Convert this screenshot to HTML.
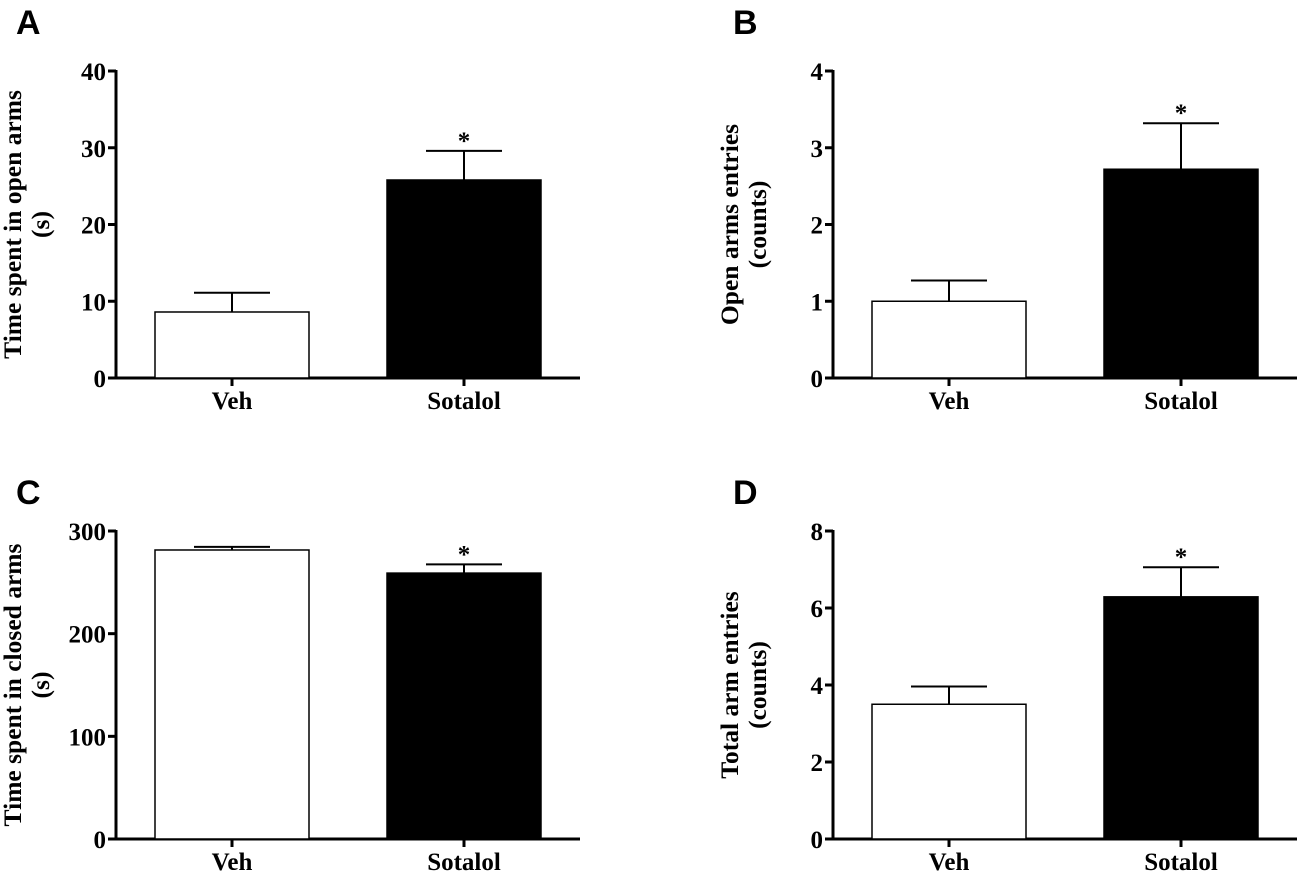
<!DOCTYPE html>
<html><head><meta charset="utf-8"><style>
body{margin:0;background:#fff}
svg text{font-family:"Liberation Serif",serif;font-weight:bold;fill:#000}
</style></head><body>
<svg id="c" width="1301" height="877" xmlns="http://www.w3.org/2000/svg"></svg>
<script>
const categories=["Veh","Sotalol"];
const panelLetters=["A","B","C","D"];
const yTitles=[["Time spent in open arms","(s)"],["Open arms entries","(counts)"],["Time spent in closed arms","(s)"],["Total arm entries","(counts)"]];
const meansA=[8.6,25.8], errA=[11.1,29.6], ticksA=[0,10,20,30,40];
const meansB=[1.0,2.72], errB=[1.27,3.32], ticksB=[0,1,2,3,4];
const meansC=[281.5,259], errC=[284.5,267.5], ticksC=[0,100,200,300];
const meansD=[3.5,6.29], errD=[3.96,7.06], ticksD=[0,2,4,6,8];
const sig=[false,true];
const panels=[[meansA,errA,ticksA],[meansB,errB,ticksB],[meansC,errC,ticksC],[meansD,errD,ticksD]];
const svg=document.getElementById('c');
const NS="http://www.w3.org/2000/svg";
function mk(t,a,p){const e=document.createElementNS(NS,t);for(const k in a)e.setAttribute(k,a[k]);(p||svg).appendChild(e);return e;}
panels.forEach((pd,i)=>{
  const [means,errs,ticks]=pd;
  const ox=i%2?833:116, y0=i<2?378:839, yTop=i<2?71:531;
  const g=mk('g',{});
  
  
  const maxv=ticks[ticks.length-1];
  const ys=v=>y0-(v/maxv)*(y0-yTop);
  const lt=mk('text',{x:ox-100,y:i<2?34:504,'font-size':34,style:'font-family:"Liberation Sans",sans-serif'},g);lt.textContent=panelLetters[i];
  
  const tx=ox-95, ty=(y0+yTop)/2;
  yTitles[i].forEach((s,j)=>{const t=mk('text',{x:0,y:0,'font-size':25.5,'text-anchor':'middle',transform:`translate(${tx+j*28},${ty}) rotate(-90)`},g);t.textContent=s;
    });
  const ya=mk('line',{x1:ox,y1:yTop-1,x2:ox,y2:y0+1.5,stroke:'#000','stroke-width':3},g);
  
  ticks.forEach(v=>{const y=ys(v);mk('line',{x1:ox-8,y1:y,x2:ox,y2:y,stroke:'#000','stroke-width':3},g);
    const t=mk('text',{x:ox-10,y:y+9,'font-size':25,'text-anchor':'end'},g);t.textContent=v;
    });
  const xa=mk('line',{x1:ox-1.5,y1:y0,x2:ox+464,y2:y0,stroke:'#000','stroke-width':3},g);
  
  categories.forEach((c,k)=>{
    const bx=ox+39+k*232, bw=154, cx=bx+bw/2;
    const top=ys(means[k]), et=ys(errs[k]);
    mk('line',{x1:cx,y1:top,x2:cx,y2:et,stroke:'#000','stroke-width':2},g);
    mk('line',{x1:cx-38,y1:et,x2:cx+38,y2:et,stroke:'#000','stroke-width':2},g);
    const r=mk('rect',{x:bx,y:top,width:bw,height:y0-top,fill:k?'#000':'#fff',stroke:'#000','stroke-width':1.5},g);
    
    mk('line',{x1:cx,y1:y0,x2:cx,y2:y0+8,stroke:'#000','stroke-width':3},g);
    const t=mk('text',{x:cx,y:y0+31,'font-size':25,'text-anchor':'middle'},g);t.textContent=c;
    
    if(sig[k]){const s=mk('text',{x:cx,y:et-2,'font-size':25,'text-anchor':'middle'},g);s.textContent='*';
      }
  });
});
</script>
</body></html>
